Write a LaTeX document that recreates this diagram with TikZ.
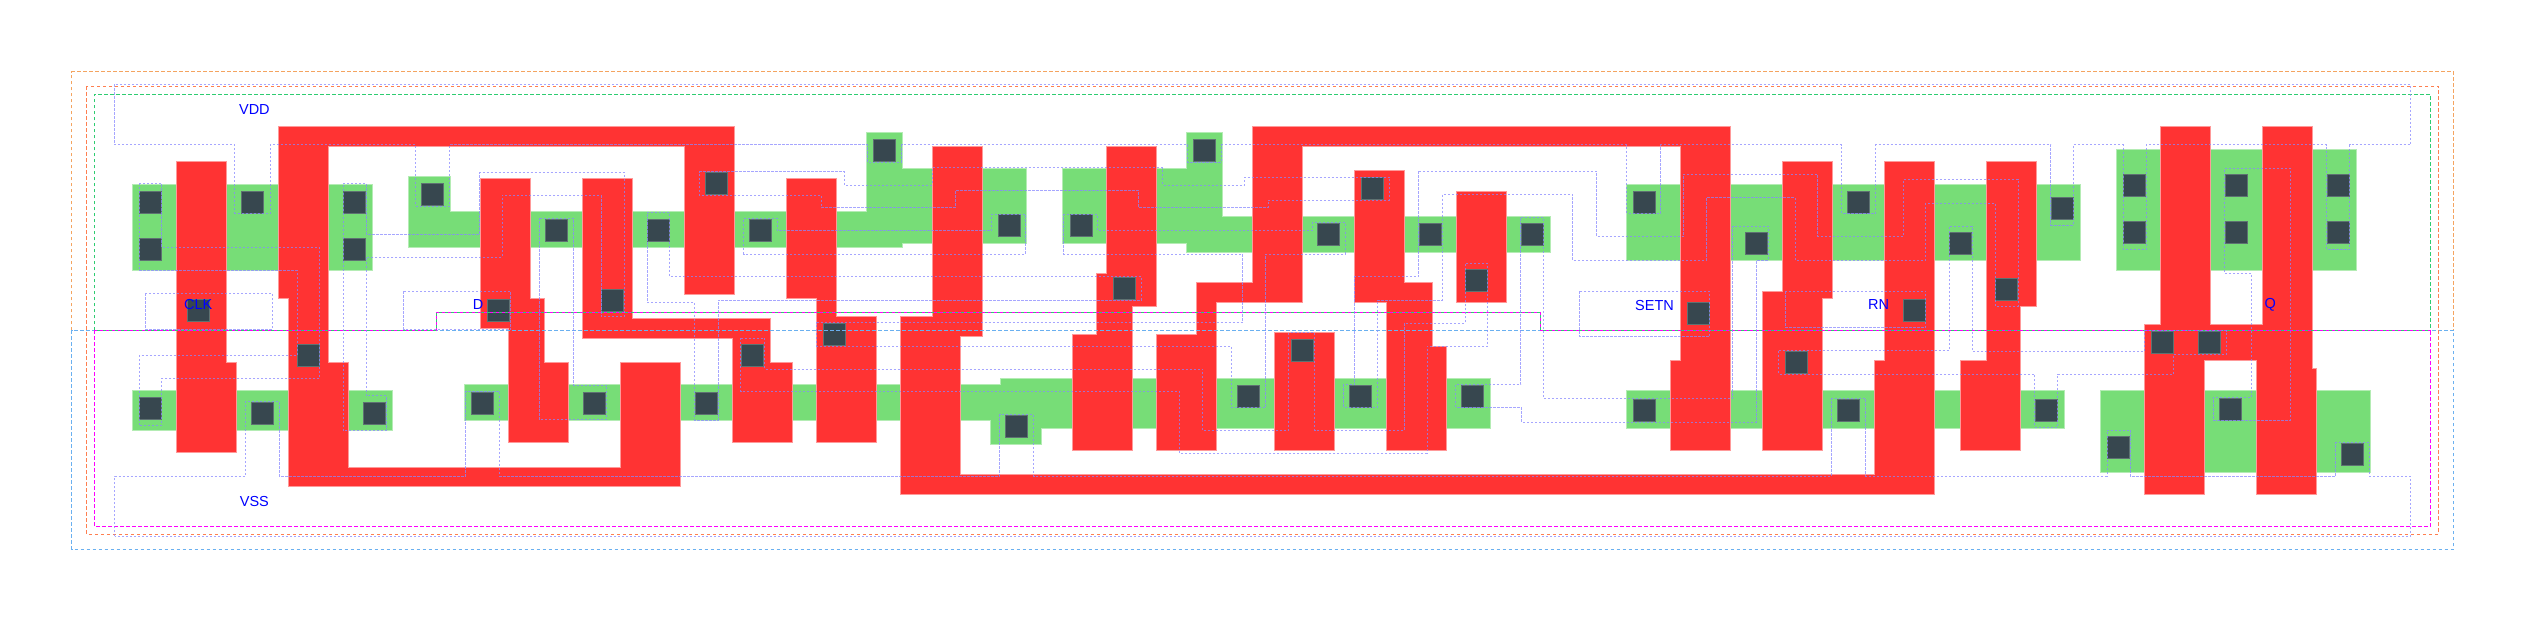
\documentclass[tikz,border=0pt]{standalone}
\usepackage{fontspec}
\setmainfont{Liberation Sans}
\definecolor{cActive}{HTML}{77DD77}
\definecolor{cActiveE}{HTML}{B4ECB4}
\definecolor{cPoly}{HTML}{FF3333}
\definecolor{cPolyE}{HTML}{FF9999}
\definecolor{cCont}{HTML}{37474F}
\definecolor{cContE}{HTML}{5E7272}
\definecolor{cMet}{HTML}{8888FF}
\definecolor{cOr}{HTML}{F4A460}
\definecolor{cOrB}{HTML}{FF7F50}
\definecolor{cBl}{HTML}{6AB0F0}
\definecolor{cGr}{HTML}{2ECC71}
\definecolor{cMg}{HTML}{FF00FF}
\tikzset{
 active/.style={fill=cActive,draw=cActiveE,line width=1pt},
 polyg/.style={fill=cPoly,draw=cPolyE,line width=1pt},
 cont/.style={fill=cCont,draw=cContE,line width=1pt},
 metal/.style={draw=cMet,line width=1pt,dash pattern=on 2.2pt off 1.8pt,draw opacity=.75},
 bound/.style={line width=1pt,dash pattern=on 3.5pt off 2.5pt},
 pinlabel/.style={text=blue,font=\fontsize{14.5pt}{15pt}\selectfont,inner sep=0pt,anchor=center}
}
\begin{document}
\begin{tikzpicture}[x=1pt,y=-1pt]
\useasboundingbox (0,0) rectangle (2525,621);
% active
\draw[active] (132.2,184.3) rectangle (372.3,270.3);
\draw[active] (408.6,176.7)--(450.2,176.7)--(450.2,211.5)--(866.7,211.5)--(866.7,132.3)--(902.3,132.3)--(902.3,168)--(1026,168)--(1026,243.3)--(902.3,243.3)--(902.3,247.7)--(408.6,247.7)--cycle;
\draw[active] (1062.4,168)--(1186.6,168)--(1186.6,132.3)--(1222.2,132.3)--(1222.2,216.3)--(1550.1,216.3)--(1550.1,252.3)--(1186.6,252.3)--(1186.6,243.3)--(1062.4,243.3)--cycle;
\draw[active] (1626,184.3) rectangle (2080.5,260.7);
\draw[active] (2116.5,149) rectangle (2356.5,270.3);
\draw[active] (132.2,390.3) rectangle (392.4,430.7);
\draw[active] (464.4,384.3)--(1000,384.3)--(1000,378)--(1490.4,378)--(1490.4,428.3)--(1041.9,428.3)--(1041.9,444.3)--(990.8,444.3)--(990.8,420.7)--(464.4,420.7)--cycle;
\draw[active] (1626.4,390.3) rectangle (2064.4,428.3);
\draw[active] (2100.5,390.3) rectangle (2370.4,472);
% poly
\draw[polyg] (176.5,161.7)--(226.4,161.7)--(226.4,362.3)--(236.2,362.3)--(236.2,452.7)--(176.5,452.7)--cycle;
\draw[polyg] (278.5,126.3)--(734.2,126.3)--(734.2,294.3)--(684.8,294.3)--(684.8,146.3)--(328.4,146.3)--(328.4,362.3)--(348.5,362.3)--(348.5,467)--(620.6,467)--(620.6,362.3)--(680.4,362.3)--(680.4,486.7)--(288.4,486.7)--(288.4,298.3)--(278.5,298.3)--cycle;
\draw[polyg] (480.2,178.3)--(530.4,178.3)--(530.4,298.3)--(544.3,298.3)--(544.3,362.3)--(568.4,362.3)--(568.4,442.7)--(508.7,442.7)--(508.7,328.3)--(480.2,328.3)--cycle;
\draw[polyg] (582.6,178.3)--(632.4,178.3)--(632.4,318.3)--(770.2,318.3)--(770.2,362.3)--(792.3,362.3)--(792.3,442.7)--(732.2,442.7)--(732.2,338.3)--(582.6,338.3)--cycle;
\draw[polyg] (786.4,178.3)--(836.2,178.3)--(836.2,316.3)--(876.2,316.3)--(876.2,442.7)--(816.5,442.7)--(816.5,298.3)--(786.4,298.3)--cycle;
\draw[polyg] (932.7,146)--(982.5,146)--(982.5,336.3)--(960.4,336.3)--(960.4,474.3)--(1874.5,474.3)--(1874.5,360)--(1884.4,360)--(1884.4,161.7)--(1934.4,161.7)--(1934.4,494.3)--(900.3,494.3)--(900.3,316.3)--(932.7,316.3)--cycle;
\draw[polyg] (1106.7,146)--(1156.5,146)--(1156.5,306.3)--(1132.4,306.3)--(1132.4,450.3)--(1072.7,450.3)--(1072.7,334.3)--(1096.8,334.3)--(1096.8,273.3)--(1106.7,273.3)--cycle;
\draw[polyg] (1252.4,126.3)--(1730.4,126.3)--(1730.4,450.3)--(1670.3,450.3)--(1670.3,360)--(1680.2,360)--(1680.2,146.3)--(1302.6,146.3)--(1302.6,302.3)--(1216.2,302.3)--(1216.2,450.3)--(1156.5,450.3)--(1156.5,334.3)--(1196.5,334.3)--(1196.5,282.3)--(1252.4,282.3)--cycle;
\draw[polyg] (1354.8,170.7)--(1404.2,170.7)--(1404.2,282.7)--(1432.3,282.7)--(1432.3,346.3)--(1446.5,346.3)--(1446.5,450.3)--(1386.4,450.3)--(1386.4,302.3)--(1354.8,302.3)--cycle;
\draw[polyg] (1456.4,191.7) rectangle (1506.6,302.7);
\draw[polyg] (1274.5,332) rectangle (1334.2,450.3);
\draw[polyg] (1782.6,161.7)--(1832.4,161.7)--(1832.4,298.3)--(1822.6,298.3)--(1822.6,450.3)--(1762.5,450.3)--(1762.5,291)--(1782.6,291)--cycle;
\draw[polyg] (1986.4,161.7)--(2036.2,161.7)--(2036.2,306.7)--(2020.5,306.7)--(2020.5,450.3)--(1960.6,450.3)--(1960.6,360)--(1986.4,360)--cycle;
\draw[polyg] (2160.4,126.3)--(2210.4,126.3)--(2210.4,324.3)--(2262.4,324.3)--(2262.4,126.3)--(2312.4,126.3)--(2312.4,368.3)--(2316.6,368.3)--(2316.6,494.3)--(2256.8,494.3)--(2256.8,360.3)--(2204.3,360.3)--(2204.3,494.3)--(2144.4,494.3)--(2144.4,324.3)--(2160.4,324.3)--cycle;
% contacts
\foreach \cx/\cy in {139.8/191,139.8/238,241.4/191,343.4/191,343.4/238,421.7/183.3,545.5/219,647.5/219,487.3/299.3,187.2/299.3,601.6/289,297.5/344,139.8/397.3,251.7/402,363.6/402,471.5/392,583.4/392,705.8/172.7,749.6/219,873.8/139.3,998/214.7,1070/214.7,1193.3/139.3,1113.4/277.7,823.6/323.7,695.5/392,741.7/344,1005.5/415.7,1237.6/385,1361.5/177.7,1317.6/223.3,1419.6/223.3,1521.3/223.3,1465/269.3,1633.2/191,1745.5/232,1847.5/191,1687.3/302.3,1291/339,1349.6/385,1461.5/385,1633.6/399.3,1785/351.7,1837.6/399.3,1903/299.3,1949.6/232,2051.7/197.7,1995.5/278,2123.2/174.7,2123.2/221.7,2225.2/174.7,2225.2/221.7,2327.3/174.7,2327.3/221.7,2035.5/399.3,2107.4/436,2151.3/331.7,2198.3/331.7,2219.4/398,2341.6/443}
  \draw[cont] (\cx,\cy) rectangle ++(22,22);
% boundaries
\draw[bound,draw=cOr] (71.7,330.3)--(71.7,71.7)--(2453.8,71.7)--(2453.8,330.3);
\draw[bound,draw=cBl] (71.7,330.3) rectangle (2453.8,549.3);
\draw[bound,draw=cOrB] (86.8,86.3) rectangle (2438.4,534.3);
\draw[bound,draw=cGr] (94.3,330.3)--(94.3,94.3)--(2430.5,94.3)--(2430.5,330.3);
\draw[bound,draw=cMg] (94.3,330.3)--(94.3,526.3)--(2430.5,526.3)--(2430.5,330.3);
\draw[draw=cMg,line width=1pt,dash pattern=on 3pt off 3pt] (94.3,330.3)--(436.7,330.3)--(436.7,312.3)--(1540.6,312.3)--(1540.6,330.3)--(2430.5,330.3);
\draw[draw=cGr,line width=1pt,dash pattern=on 3pt off 3pt,dash phase=3pt] (94.3,330.3)--(436.7,330.3)--(436.7,312.3)--(1540.6,312.3)--(1540.6,330.3)--(2430.5,330.3);
% metal outlines
\draw[metal] (114.5,84.3)--(114.5,144.7)--(234.7,144.7)--(234.7,213.3)--(270.2,213.3)--(270.2,144.7)--(415.4,144.7)--(415.4,206)--(449.4,206)--(449.4,144.7)--(867.5,144.7)--(867.5,162)--(901.5,162)--(901.5,144.7)--(1187.8,144.7)--(1187.8,162)--(1221.4,162)--(1221.4,144.7)--(1626.8,144.7)--(1626.8,213.3)--(1660.8,213.3)--(1660.8,144.7)--(1841.5,144.7)--(1841.5,213.3)--(1875.7,213.3)--(1875.7,144.7)--(2050.9,144.7)--(2050.9,225)--(2073.8,225)--(2073.8,144.7)--(2123.2,144.7)--(2123.2,249.3)--(2146.2,249.3)--(2146.2,144.7)--(2326.9,144.7)--(2326.9,249.3)--(2349.8,249.3)--(2349.8,144.7)--(2410.7,144.7)--(2410.7,84.3)--cycle;
\draw[metal] (114.5,536.3)--(114.5,476.3)--(245.3,476.3)--(245.3,401.7)--(279.3,401.7)--(279.3,476.3)--(465.6,476.3)--(465.6,391.3)--(499.6,391.3)--(499.6,476.3)--(999.5,476.3)--(999.5,414.7)--(1033.5,414.7)--(1033.5,476.3)--(1831.3,476.3)--(1831.3,398.7)--(1865.7,398.7)--(1865.7,476.3)--(2107,476.3)--(2107,430)--(2130.2,430)--(2130.2,476.3)--(2335.6,476.3)--(2335.6,442.7)--(2369.6,442.7)--(2369.6,476.3)--(2410.5,476.3)--(2410.5,536.3)--cycle;
\draw[metal] (139,183.3)--(161.9,183.3)--(161.9,247.3)--(319.7,247.3)--(319.7,378.3)--(161.9,378.3)--(161.9,425.3)--(139,425.3)--(139,355.3)--(297.1,355.3)--(297.1,270.3)--(139,270.3)--cycle;
\draw[metal] (343,183.3)--(366,183.3)--(366,234)--(479.8,234)--(479.8,172.3)--(624.1,172.3)--(624.1,316.7)--(601.2,316.7)--(601.2,195.3)--(502.3,195.3)--(502.3,257.3)--(366,257.3)--(366,395.7)--(386.5,395.7)--(386.5,430.3)--(343,430.3)--cycle;
\draw[metal] (145.3,293.3) rectangle (272.2,329.3);
\draw[metal] (403.5,291.3) rectangle (510.7,329.3);
\draw[metal] (539.5,218.3)--(573.5,218.3)--(573.5,385)--(606.7,385)--(606.7,419.7)--(539.5,419.7)--cycle;
\draw[metal] (647,212.5)--(669.8,212.5)--(669.8,276.7)--(1141.5,276.7)--(1141.5,300)--(718,300)--(718,420)--(694.7,420)--(694.7,302.3)--(647,302.3)--cycle;
\draw[metal] (699.4,171.7)--(844.5,171.7)--(844.5,185)--(932.3,185)--(932.3,167.7)--(1162.5,167.7)--(1162.5,185)--(1244.3,185)--(1244.3,177)--(1389.2,177)--(1389.2,200)--(1268.2,200)--(1268.2,207.7)--(1138.7,207.7)--(1138.7,190.7)--(955.3,190.7)--(955.3,207.7)--(821.6,207.7)--(821.6,195.3)--(699.4,195.3)--cycle;
\draw[metal] (743.7,218.3)--(777.3,218.3)--(777.3,230.7)--(991.6,230.7)--(991.6,214)--(1025.2,214)--(1025.2,254)--(743.7,254)--cycle;
\draw[metal] (1063.2,214)--(1097.6,214)--(1097.6,230.7)--(1312,230.7)--(1312,222.7)--(1345.3,222.7)--(1345.3,254)--(1265.7,254)--(1265.7,407.3)--(1231.3,407.3)--(1231.3,346)--(816.9,346)--(816.9,322.7)--(1242.3,322.7)--(1242.3,254)--(1063.2,254)--cycle;
\draw[metal] (740.5,338)--(764.3,338)--(764.3,369)--(1202.4,369)--(1202.4,430.3)--(1288.8,430.3)--(1288.8,332.7)--(1314.5,332.7)--(1314.5,430.3)--(1404.2,430.3)--(1404.2,323.3)--(1465.1,323.3)--(1465.1,263.3)--(1487.6,263.3)--(1487.6,346.3)--(1427.1,346.3)--(1427.1,453.3)--(1179.5,453.3)--(1179.5,391.7)--(740.5,391.7)--cycle;
\draw[metal] (1418.8,171)--(1596.4,171)--(1596.4,236.3)--(1683.8,236.3)--(1683.8,174)--(1817.8,174)--(1817.8,236.3)--(1903.4,236.3)--(1903.4,179.3)--(2018,179.3)--(2018,306)--(1995.1,306)--(1995.1,203)--(1925.9,203)--(1925.9,260)--(1795,260)--(1795,197.3)--(1706.7,197.3)--(1706.7,260)--(1572.7,260)--(1572.7,194.3)--(1442.2,194.3)--(1442.2,300)--(1377.3,300)--(1377.3,407.3)--(1343.7,407.3)--(1343.7,384.3)--(1354.8,384.3)--(1354.8,276.7)--(1418.8,276.7)--cycle;
\draw[metal] (1520.9,217.7)--(1543.8,217.7)--(1543.8,398.7)--(1732.8,398.7)--(1732.8,226)--(1768,226)--(1768,260.7)--(1756.1,260.7)--(1756.1,422)--(1521.3,422)--(1521.3,407.3)--(1455.6,407.3)--(1455.6,384.3)--(1520.9,384.3)--cycle;
\draw[metal] (1579.4,291.3) rectangle (1709.9,336.3);
\draw[metal] (1785.8,291.3) rectangle (1925.9,327.7);
\draw[metal] (1778.7,350.7)--(1949,350.7)--(1949,226)--(1972,226)--(1972,351)--(2144.9,351)--(2144.9,330.7)--(2226.7,330.7)--(2226.7,354)--(2173.7,354)--(2173.7,374)--(2057.9,374)--(2057.9,427)--(2034.7,427)--(2034.7,374)--(1778.7,374)--cycle;
\draw[metal] (2224.5,168.3)--(2290,168.3)--(2290,420.3)--(2213.3,420.3)--(2213.3,397.3)--(2251.6,397.3)--(2251.6,273.3)--(2224.5,273.3)--cycle;
% labels
\node[pinlabel] (lvdd) at (254.4,109.3) {VDD};
\node[pinlabel] (lvss) at (254.4,501.7) {VSS};
\node[pinlabel] (lclk) at (198.3,305) {CLK};
\node[pinlabel] (ld) at (478.2,305) {D};
\node[pinlabel] (lsetn) at (1654.5,305.5) {SETN};
\node[pinlabel] (lrn) at (1878.5,305) {RN};
\node[pinlabel] (lq) at (2270.3,305) {Q};
\end{tikzpicture}
\end{document}
